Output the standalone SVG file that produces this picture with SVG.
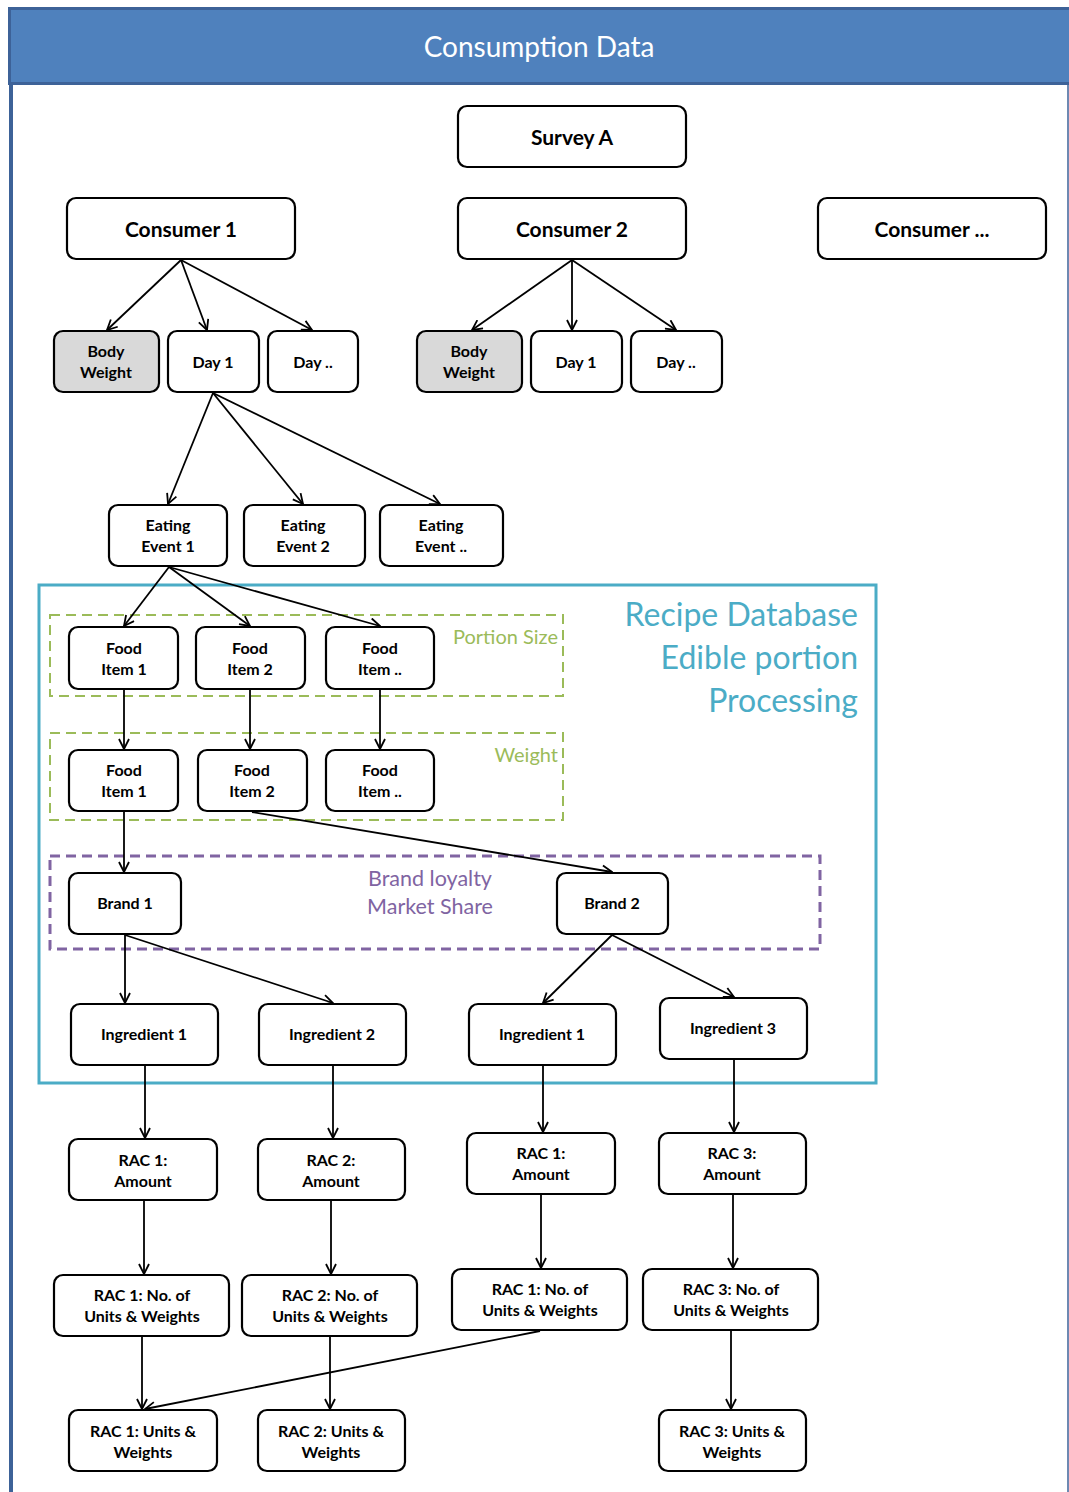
<svg xmlns="http://www.w3.org/2000/svg" width="1069" height="1492" viewBox="0 0 1069 1492">
<defs>
<style>
.n rect{fill:#fff;stroke:#000;stroke-width:2.2}
.g rect{fill:#d9d9d9}
.n text{font-family:Lato,"Liberation Sans",sans-serif;font-weight:bold;font-size:16px;fill:#000;text-anchor:middle}
.big text{font-size:21px}
.c line{stroke:#000;stroke-width:1.8;marker-end:url(#a)}
.lbl{font-family:Lato,"Open Sans",sans-serif}
</style>
<marker id="a" viewBox="0 0 12 12" refX="11" refY="6" markerWidth="12" markerHeight="12" markerUnits="userSpaceOnUse" orient="auto">
<polyline points="1,1 11,6 1,11" fill="none" stroke="#000" stroke-width="1.8"/>
</marker>
</defs>
<rect width="1069" height="1492" fill="#fff"/>
<!-- frame -->
<g id="frame">
<line x1="11" y1="84" x2="11" y2="1492" stroke="#3d6298" stroke-width="4"/>
<line x1="1068" y1="84" x2="1068" y2="1492" stroke="#3d6298" stroke-width="1.5"/>
<rect x="9.5" y="8.5" width="1062" height="75" fill="#4f81bd" stroke="#3d6298" stroke-width="3"/>
<text x="539" y="57" class="lbl" font-size="28" fill="#fff" text-anchor="middle">Consumption Data</text>
</g>
<!-- group boxes -->
<g id="recipe-db">
<rect x="39" y="585" width="837" height="498" fill="none" stroke="#4bacc6" stroke-width="3"/>
<text class="lbl" font-size="32" fill="#4bacc6" text-anchor="end"><tspan x="858" y="626">Recipe Database</tspan><tspan x="858" y="669">Edible portion</tspan><tspan x="858" y="712">Processing</tspan></text>
</g>
<g id="portion-size">
<rect x="50" y="615" width="513" height="81" fill="none" stroke="#9bbb59" stroke-width="2" stroke-dasharray="10,6"/>
<text x="558" y="644" class="lbl" font-size="20" fill="#9bbb59" text-anchor="end">Portion Size</text>
</g>
<g id="weight">
<rect x="50" y="733" width="513" height="87" fill="none" stroke="#9bbb59" stroke-width="2" stroke-dasharray="10,6"/>
<text x="558" y="762" class="lbl" font-size="20" fill="#9bbb59" text-anchor="end">Weight</text>
</g>
<g id="brand-loyalty">
<rect x="50" y="856" width="770" height="93" fill="none" stroke="#8064a2" stroke-width="3" stroke-dasharray="10,6"/>
<text class="lbl" font-size="21.5" fill="#8064a2" text-anchor="middle"><tspan x="430" y="886">Brand loyalty</tspan><tspan x="430" y="914">Market Share</tspan></text>
</g>
<!-- connectors -->
<g id="connectors" class="c">
<line x1="181" y1="260" x2="107" y2="330"/>
<line x1="181" y1="260" x2="207" y2="330"/>
<line x1="181" y1="260" x2="312" y2="330"/>
<line x1="572" y1="260" x2="472" y2="330"/>
<line x1="572" y1="260" x2="572" y2="330"/>
<line x1="572" y1="260" x2="676" y2="330"/>
<line x1="213" y1="393" x2="168" y2="504"/>
<line x1="213" y1="393" x2="303" y2="504"/>
<line x1="213" y1="393" x2="440" y2="504"/>
<line x1="169" y1="567" x2="124" y2="626"/>
<line x1="169" y1="567" x2="250" y2="626"/>
<line x1="169" y1="567" x2="380" y2="626"/>
<line x1="124" y1="690" x2="124" y2="749"/>
<line x1="250" y1="690" x2="250" y2="749"/>
<line x1="380" y1="690" x2="380" y2="749"/>
<line x1="124" y1="812" x2="124" y2="872"/>
<line x1="252" y1="812" x2="612" y2="872"/>
<line x1="125" y1="935" x2="125" y2="1003"/>
<line x1="125" y1="935" x2="333" y2="1003"/>
<line x1="612" y1="935" x2="543" y2="1003"/>
<line x1="612" y1="935" x2="734" y2="997"/>
<line x1="145" y1="1066" x2="145" y2="1138"/>
<line x1="333" y1="1066" x2="333" y2="1138"/>
<line x1="543" y1="1066" x2="543" y2="1132"/>
<line x1="734" y1="1060" x2="734" y2="1132"/>
<line x1="144" y1="1201" x2="144" y2="1274"/>
<line x1="331" y1="1201" x2="331" y2="1274"/>
<line x1="541" y1="1195" x2="541" y2="1268"/>
<line x1="733" y1="1195" x2="733" y2="1268"/>
<line x1="142" y1="1337" x2="142" y2="1409"/>
<line x1="330" y1="1337" x2="330" y2="1409"/>
<line x1="540" y1="1331" x2="145" y2="1409"/>
<line x1="731" y1="1331" x2="731" y2="1409"/>
</g>
<!-- nodes -->
<g id="survey-a" class="n big"><rect x="458" y="106" width="228" height="61" rx="9"/><text x="572" y="145">Survey A</text></g>
<g id="consumer-1" class="n big"><rect x="67" y="198" width="228" height="61" rx="9"/><text x="181" y="237">Consumer 1</text></g>
<g id="consumer-2" class="n big"><rect x="458" y="198" width="228" height="61" rx="9"/><text x="572" y="237">Consumer 2</text></g>
<g id="consumer-n" class="n big"><rect x="818" y="198" width="228" height="61" rx="9"/><text x="932" y="237">Consumer ...</text></g>

<g id="c1-body-weight" class="n g"><rect x="54" y="331" width="105" height="61" rx="9"/><text x="106" y="357">Body</text><text x="106" y="378">Weight</text></g>
<g id="c1-day-1" class="n"><rect x="168" y="331" width="91" height="61" rx="9"/><text x="213" y="368">Day 1</text></g>
<g id="c1-day-n" class="n"><rect x="268" y="331" width="90" height="61" rx="9"/><text x="313" y="368">Day ..</text></g>
<g id="c2-body-weight" class="n g"><rect x="417" y="331" width="105" height="61" rx="9"/><text x="469" y="357">Body</text><text x="469" y="378">Weight</text></g>
<g id="c2-day-1" class="n"><rect x="531" y="331" width="91" height="61" rx="9"/><text x="576" y="368">Day 1</text></g>
<g id="c2-day-n" class="n"><rect x="631" y="331" width="91" height="61" rx="9"/><text x="676" y="368">Day ..</text></g>

<g id="eating-event-1" class="n"><rect x="109" y="505" width="118" height="61" rx="9"/><text x="168" y="531">Eating</text><text x="168" y="552">Event 1</text></g>
<g id="eating-event-2" class="n"><rect x="244" y="505" width="121" height="61" rx="9"/><text x="303" y="531">Eating</text><text x="303" y="552">Event 2</text></g>
<g id="eating-event-n" class="n"><rect x="380" y="505" width="123" height="61" rx="9"/><text x="441" y="531">Eating</text><text x="441" y="552">Event ..</text></g>

<g id="ps-food-item-1" class="n"><rect x="69" y="627" width="109" height="62" rx="9"/><text x="124" y="654">Food</text><text x="124" y="675">Item 1</text></g>
<g id="ps-food-item-2" class="n"><rect x="196" y="627" width="109" height="62" rx="9"/><text x="250" y="654">Food</text><text x="250" y="675">Item 2</text></g>
<g id="ps-food-item-n" class="n"><rect x="326" y="627" width="108" height="62" rx="9"/><text x="380" y="654">Food</text><text x="380" y="675">Item ..</text></g>

<g id="w-food-item-1" class="n"><rect x="69" y="750" width="109" height="61" rx="9"/><text x="124" y="776">Food</text><text x="124" y="797">Item 1</text></g>
<g id="w-food-item-2" class="n"><rect x="198" y="750" width="109" height="61" rx="9"/><text x="252" y="776">Food</text><text x="252" y="797">Item 2</text></g>
<g id="w-food-item-n" class="n"><rect x="326" y="750" width="108" height="61" rx="9"/><text x="380" y="776">Food</text><text x="380" y="797">Item ..</text></g>

<g id="brand-1" class="n"><rect x="69" y="873" width="112" height="61" rx="9"/><text x="125" y="909">Brand 1</text></g>
<g id="brand-2" class="n"><rect x="557" y="873" width="111" height="61" rx="9"/><text x="612" y="909">Brand 2</text></g>

<g id="b1-ingredient-1" class="n"><rect x="71" y="1004" width="147" height="61" rx="9"/><text x="144" y="1040">Ingredient 1</text></g>
<g id="b1-ingredient-2" class="n"><rect x="259" y="1004" width="147" height="61" rx="9"/><text x="332" y="1040">Ingredient 2</text></g>
<g id="b2-ingredient-1" class="n"><rect x="469" y="1004" width="147" height="61" rx="9"/><text x="542" y="1040">Ingredient 1</text></g>
<g id="b2-ingredient-3" class="n"><rect x="660" y="998" width="147" height="61" rx="9"/><text x="733" y="1034">Ingredient 3</text></g>

<g id="rac1-amount-a" class="n"><rect x="69" y="1139" width="148" height="61" rx="9"/><text x="143" y="1166">RAC 1:</text><text x="143" y="1187">Amount</text></g>
<g id="rac2-amount" class="n"><rect x="258" y="1139" width="147" height="61" rx="9"/><text x="331" y="1166">RAC 2:</text><text x="331" y="1187">Amount</text></g>
<g id="rac1-amount-b" class="n"><rect x="467" y="1133" width="148" height="61" rx="9"/><text x="541" y="1159">RAC 1:</text><text x="541" y="1180">Amount</text></g>
<g id="rac3-amount" class="n"><rect x="659" y="1133" width="147" height="61" rx="9"/><text x="732" y="1159">RAC 3:</text><text x="732" y="1180">Amount</text></g>

<g id="rac1-units-a" class="n"><rect x="54" y="1275" width="175" height="61" rx="9"/><text x="142" y="1301">RAC 1: No. of</text><text x="142" y="1322">Units &amp; Weights</text></g>
<g id="rac2-units" class="n"><rect x="242" y="1275" width="175" height="61" rx="9"/><text x="330" y="1301">RAC 2: No. of</text><text x="330" y="1322">Units &amp; Weights</text></g>
<g id="rac1-units-b" class="n"><rect x="452" y="1269" width="175" height="61" rx="9"/><text x="540" y="1295">RAC 1: No. of</text><text x="540" y="1316">Units &amp; Weights</text></g>
<g id="rac3-units" class="n"><rect x="643" y="1269" width="175" height="61" rx="9"/><text x="731" y="1295">RAC 3: No. of</text><text x="731" y="1316">Units &amp; Weights</text></g>

<g id="rac1-uw" class="n"><rect x="69" y="1410" width="148" height="61" rx="9"/><text x="143" y="1437">RAC 1: Units &amp;</text><text x="143" y="1458">Weights</text></g>
<g id="rac2-uw" class="n"><rect x="258" y="1410" width="147" height="61" rx="9"/><text x="331" y="1437">RAC 2: Units &amp;</text><text x="331" y="1458">Weights</text></g>
<g id="rac3-uw" class="n"><rect x="659" y="1410" width="147" height="61" rx="9"/><text x="732" y="1437">RAC 3: Units &amp;</text><text x="732" y="1458">Weights</text></g>
</svg>
